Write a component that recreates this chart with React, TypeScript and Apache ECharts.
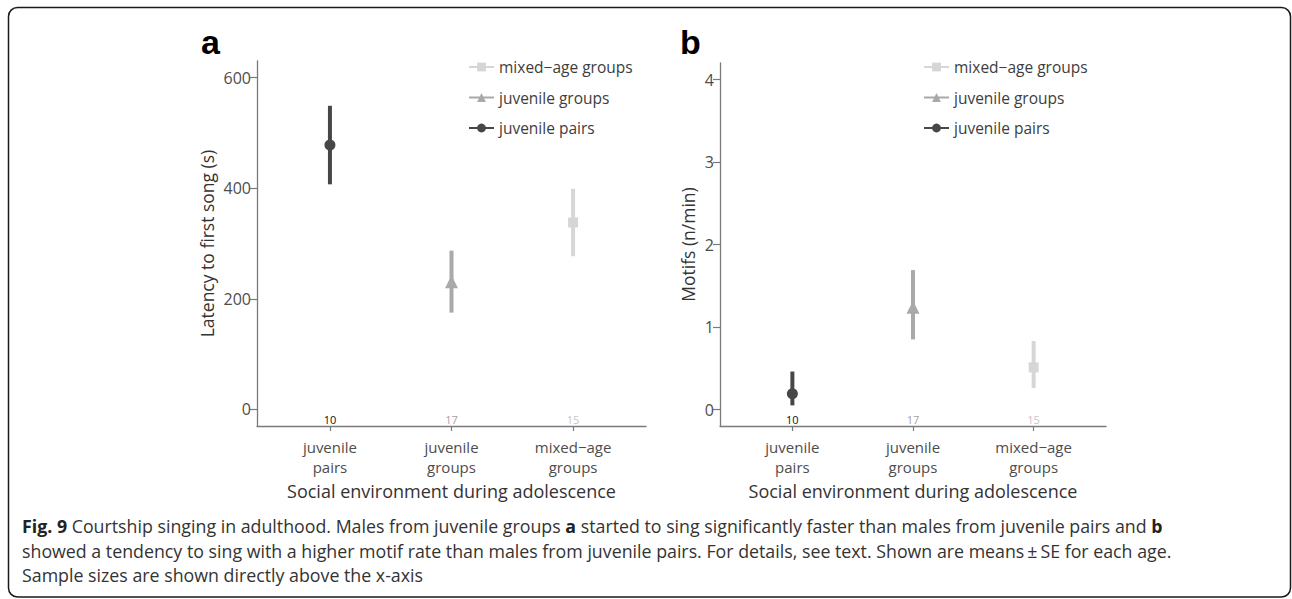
import React, { useEffect, useRef } from "react";
import * as echarts from "echarts";

// ---- data ----
const categoryLabels = ["juvenile\npairs", "juvenile\ngroups", "mixed\u2212age\ngroups"];
const groupNames = ["juvenile pairs", "juvenile groups", "mixed\u2212age groups"];
const categoryPositions = [1, 2, 3];
const sampleSizes = [10, 17, 15];

const latencyMean = [478, 231, 338];
const latencyLow = [407, 175, 277];
const latencyHigh = [549, 287, 399];
const latencyTicks = [0, 200, 400, 600];

const motifMean = [0.19, 1.24, 0.51];
const motifLow = [0.05, 0.85, 0.26];
const motifHigh = [0.46, 1.69, 0.83];
const motifTicks = [0, 1, 2, 3, 4];

const groupColors = ["#474747", "#a9a9a9", "#d6d6d6"];
const sampleColors = ["#111111", "#a3a3a3", "#c6c6c6"];
const groupSymbols = ["circle", "triangle", "rect"];
const groupSymbolSizes = [11, 13, 10];
const legendOrder = ["mixed\u2212age groups", "juvenile groups", "juvenile pairs"];

const captionLines = [
  "{b|Fig. 9} Courtship singing in adulthood. Males from juvenile groups {b|a} started to sing significantly faster than males from juvenile pairs and {b|b}",
  "showed a tendency to sing with a higher motif rate than males from juvenile pairs. For details, see text. Shown are means\u2009\u00b1\u2009SE for each age.",
  "Sample sizes are shown directly above the x-axis",
];

const FONT = "'Open Sans', 'Noto Sans', sans-serif";

function panelSeries(gi: number, mean: number[], low: number[], high: number[], ymin: number, ymax: number) {
  const series: any[] = [];
  series.push({
    type: "custom",
    xAxisIndex: gi,
    yAxisIndex: gi,
    silent: true,
    z: 2,
    data: categoryPositions.map((x, i) => [x, low[i], high[i], i]),
    encode: { x: 0, y: [1, 2] },
    renderItem: (params: any, api: any) => {
      const x = api.value(0);
      const i = api.value(3);
      const p1 = api.coord([x, api.value(1)]);
      const p2 = api.coord([x, api.value(2)]);
      return {
        type: "line",
        shape: { x1: p1[0], y1: p1[1], x2: p2[0], y2: p2[1] },
        style: { stroke: groupColors[i], lineWidth: 4 },
      };
    },
  });
  const labelY = ymin + (ymax - ymin) * 0.016;
  series.push({
    type: "custom",
    xAxisIndex: gi,
    yAxisIndex: gi,
    silent: true,
    z: 3,
    data: categoryPositions.map((x, i) => [x, labelY, sampleSizes[i], i]),
    encode: { x: 0, y: 1 },
    renderItem: (params: any, api: any) => {
      const i = api.value(3);
      const p = api.coord([api.value(0), api.value(1)]);
      return {
        type: "text",
        x: p[0],
        y: p[1] - 1,
        style: {
          text: String(api.value(2)),
          fill: sampleColors[i],
          font: `11px ${FONT}`,
          align: "center",
          verticalAlign: "middle",
        },
      };
    },
  });
  groupNames.forEach((name, i) => {
    series.push({
      type: "line",
      name,
      xAxisIndex: gi,
      yAxisIndex: gi,
      z: 5,
      symbol: groupSymbols[i],
      symbolSize: groupSymbolSizes[i],
      itemStyle: { color: groupColors[i] },
      lineStyle: { color: groupColors[i], width: 4 },
      data: [[categoryPositions[i], mean[i]]],
    });
  });
  return series;
}

function xAxisCfg(gi: number) {
  return {
    type: "value",
    gridIndex: gi,
    min: 0.4,
    max: 3.6,
    name: "Social environment during adolescence",
    nameLocation: "middle",
    nameGap: 55,
    nameTextStyle: { fontFamily: FONT, fontSize: 18, color: "#333" },
    axisLine: { show: true, onZero: false, lineStyle: { color: "#7a7a7a", width: 1.3 } },
    axisTick: { show: true, length: 5, customValues: categoryPositions, lineStyle: { color: "#7a7a7a", width: 1.2 } },
    axisLabel: {
      customValues: categoryPositions,
      formatter: (v: number) => categoryLabels[categoryPositions.indexOf(Math.round(v))] ?? "",
      fontFamily: FONT,
      fontSize: 15,
      lineHeight: 20,
      color: "#4d4d4d",
      margin: 11,
    },
    splitLine: { show: false },
  };
}

function yAxisCfg(gi: number, min: number, max: number, ticks: number[], name: string, nameGap: number) {
  return {
    type: "value",
    gridIndex: gi,
    min,
    max,
    name,
    nameLocation: "middle",
    nameGap,
    nameTextStyle: { fontFamily: FONT, fontSize: 17.5, color: "#333" },
    axisLine: { show: true, onZero: false, lineStyle: { color: "#7a7a7a", width: 1.3 } },
    axisTick: { show: true, length: 7, customValues: ticks, lineStyle: { color: "#7a7a7a", width: 1.2 } },
    axisLabel: { customValues: ticks, fontFamily: FONT, fontSize: 16, color: "#4d4d4d", margin: 6 },
    splitLine: { show: false },
  };
}

function legendCfg(left: number) {
  return {
    orient: "vertical",
    left,
    top: 57,
    padding: 0,
    itemWidth: 25,
    itemHeight: 11,
    itemGap: 10.5,
    selectedMode: false,
    data: legendOrder,
    textStyle: { fontFamily: FONT, fontSize: 15.5, color: "#3d3d3d", lineHeight: 20 },
  };
}

export default function App() {
  const ref = useRef<HTMLDivElement>(null);
  useEffect(() => {
    if (!ref.current) return;
    const chart = echarts.init(ref.current, undefined, { renderer: "svg" });
    const option: any = {
      animation: false,
      backgroundColor: "#ffffff",
      grid: [
        { left: 257, top: 61, width: 389, height: 365 },
        { left: 720, top: 63, width: 386, height: 363 },
      ],
      xAxis: [xAxisCfg(0), xAxisCfg(1)],
      yAxis: [
        yAxisCfg(0, -30, 630, latencyTicks, "Latency to first song (s)", 41),
        yAxisCfg(1, -0.2, 4.2, motifTicks, "Motifs (n/min)", 23),
      ],
      legend: [legendCfg(468), legendCfg(923)],
      series: [
        ...panelSeries(0, latencyMean, latencyLow, latencyHigh, -30, 630),
        ...panelSeries(1, motifMean, motifLow, motifHigh, -0.2, 4.2),
      ],
      graphic: [
        {
          type: "rect",
          shape: { x: 8.5, y: 7.5, width: 1282, height: 589.5, r: 9 },
          style: { fill: "none", stroke: "#1a1a1a", lineWidth: 1.5 },
          silent: true,
        },
        {
          type: "text",
          x: 201,
          y: 42,
          style: { text: "a", font: "bold 34px 'Liberation Sans', Arial, sans-serif", fill: "#000", verticalAlign: "middle" },
        },
        {
          type: "text",
          x: 680,
          y: 42,
          style: { text: "b", font: "bold 34px 'Liberation Sans', Arial, sans-serif", fill: "#000", verticalAlign: "middle" },
        },
        ...captionLines.map((line, i) => ({
          type: "text",
          x: 22,
          y: 526 + i * 24.5,
          style: {
            text: line,
            fontFamily: FONT,
            fontSize: 17.8,
            fill: "#333",
            verticalAlign: "middle",
            rich: { b: { fontWeight: "bold", fontFamily: FONT, fontSize: 17.8, fill: "#222" } },
          },
        })),
      ],
    };
    chart.setOption(option);
    return () => chart.dispose();
  }, []);
  return (
    <div
      ref={ref}
      style={{ position: "absolute", left: 0, top: 0, width: 1292, height: 599, background: "#fff" }}
    />
  );
}
